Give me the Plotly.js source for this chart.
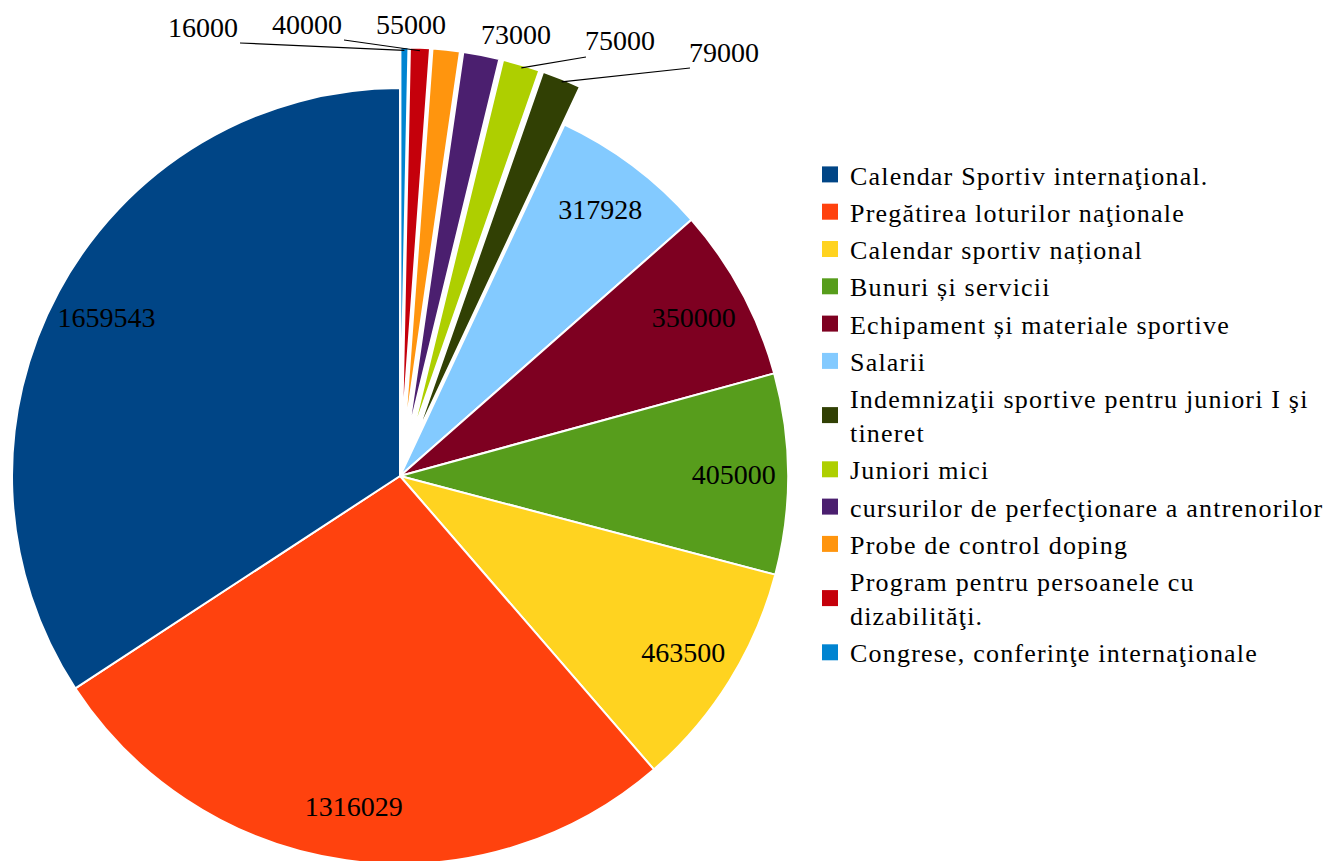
<!DOCTYPE html>
<html><head><meta charset="utf-8">
<script src="https://cdn.plot.ly/plotly-3.0.1.min.js"></script>
<style>
html,body{margin:0;padding:0;overflow:hidden;width:1331px;height:861px;background:#fff}
#chart{position:absolute;left:-40px;top:0;width:1400px;height:910px}
.legendtext{letter-spacing:1.2px}
</style>
</head><body><div id="chart"></div>
<script>
const categories = [
  "Calendar Sportiv internaţional.",
  "Pregătirea loturilor naţionale",
  "Calendar sportiv național",
  "Bunuri și servicii",
  "Echipament și materiale sportive",
  "Salarii",
  "Indemnizaţii sportive pentru juniori I şi tineret",
  "Juniori mici",
  "cursurilor de perfecţionare a antrenorilor",
  "Probe de control doping",
  "Program pentru persoanele cu dizabilităţi.",
  "Congrese, conferinţe internaţionale"
];
const values = [1659543, 1316029, 463500, 405000, 350000, 317928, 79000, 75000, 73000, 55000, 40000, 16000];
const legendLabels = [
  "Calendar Sportiv internaţional.",
  "Pregătirea loturilor naţionale",
  "Calendar sportiv național",
  "Bunuri și servicii",
  "Echipament și materiale sportive",
  "Salarii",
  "Indemnizaţii sportive pentru juniori I şi<br>tineret",
  "Juniori mici",
  "cursurilor de perfecţionare a antrenorilor",
  "Probe de control doping",
  "Program pentru persoanele cu<br>dizabilităţi.",
  "Congrese, conferinţe internaţionale"
];
const colors = ["#004586","#ff420e","#ffd320","#579d1c","#7e0021","#83caff","#314004","#aecf00","#4b1f6f","#ff950e","#c5000b","#0084d1"];

// layout: screen positions of the outside labels (for the small, pulled slices, clockwise from 12 o'clock)
const outsideLabelSpots = [[203, 27], [307, 24], [411, 24], [516, 35], [620, 41], [724, 52]];

const FONT = "Liberation Serif, Times New Roman, serif";
const W = 1400, H = 910, OFF = 40;
const cx = 400, cy = 476, R = 388, PULL = 0.105;
const half = R * (1 + PULL);
const domain = {x: [(cx + OFF - half) / W, (cx + OFF + half) / W], y: [(H - (cy + half)) / H, (H - (cy - half)) / H]};
const px = sx => (sx + OFF) / W, py = sy => 1 - sy / H;
const rev = a => a.slice().reverse();
const pLabels = rev(categories), pValues = rev(values), pColors = rev(colors);
const isSmall = v => v < 100000;
const pulls = pValues.map(v => isSmall(v) ? PULL : 0);
const positions = pValues.map(v => isSmall(v) ? 'none' : 'inside');

const pieBase = {
  type: 'pie', labels: pLabels, values: pValues, sort: false,
  direction: 'clockwise', rotation: 0, pull: pulls, domain: domain,
  showlegend: false, hoverinfo: 'skip'
};
const traces = [
  Object.assign({}, pieBase, {
    marker: {colors: pColors, line: {color: '#ffffff', width: 2}},
    textinfo: 'none'
  }),
  Object.assign({}, pieBase, {
    hole: 0.72,
    marker: {colors: pColors.map(() => 'rgba(0,0,0,0)'), line: {width: 0}},
    text: pValues.map(String), textinfo: 'text', textposition: positions,
    insidetextorientation: 'horizontal',
    textfont: {family: FONT, size: 28, color: '#000'},
    insidetextfont: {family: FONT, size: 28, color: '#000'}
  })
];
categories.forEach((c, i) => {
  traces.push({
    type: 'scatter', mode: 'markers', x: [null], y: [null],
    name: legendLabels[i], legendgroup: 'g' + i, showlegend: true,
    marker: {symbol: 'square', size: 18, color: colors[i]}, hoverinfo: 'skip'
  });
});

// labels + leader lines for the small slices, anchored at the outer edge of each pulled slice
const total = pValues.reduce((a, b) => a + b, 0);
const annotations = [], shapes = [];
let cum = 0, k = 0;
pValues.forEach((v) => {
  const mid = (cum + v / 2) / total * 2 * Math.PI;
  cum += v;
  if (!isSmall(v)) return;
  const rr = R * (1 + PULL);
  const hx = cx + rr * Math.sin(mid), hy = cy - rr * Math.cos(mid) + 3;
  const spot = outsideLabelSpots[k++];
  annotations.push({
    xref: 'paper', yref: 'paper', x: px(spot[0]), y: py(spot[1]),
    xanchor: 'center', yanchor: 'middle', text: String(v), showarrow: false,
    font: {family: FONT, size: 28, color: '#000'}
  });
  const tx = spot[0] < hx - 10 ? spot[0] + 37 : spot[0] - 34;
  const ty = spot[1] + 16;
  if (Math.hypot(tx - hx, ty - hy) > 30 && Math.abs(spot[0] - hx) > 60) {
    shapes.push({type: 'line', xref: 'paper', yref: 'paper',
      x0: px(tx), y0: py(ty), x1: px(hx), y1: py(hy),
      line: {color: '#000', width: 1.2}});
  }
});

const layout = {
  width: W, height: H, margin: {l: 0, r: 0, t: 0, b: 0},
  paper_bgcolor: '#fff', plot_bgcolor: 'rgba(0,0,0,0)',
  font: {family: FONT, size: 26, color: '#000'},
  xaxis: {visible: false}, yaxis: {visible: false},
  showlegend: true, annotations: annotations, shapes: shapes,
  legend: {x: 850 / W, y: 1 - 151 / H, xanchor: 'left', yanchor: 'top',
    font: {family: FONT, size: 26, color: '#000'}, tracegroupgap: 0.5,
    bgcolor: 'rgba(0,0,0,0)'}
};
Plotly.newPlot('chart', traces, layout, {staticPlot: true, displayModeBar: false});
</script>
</body></html>
